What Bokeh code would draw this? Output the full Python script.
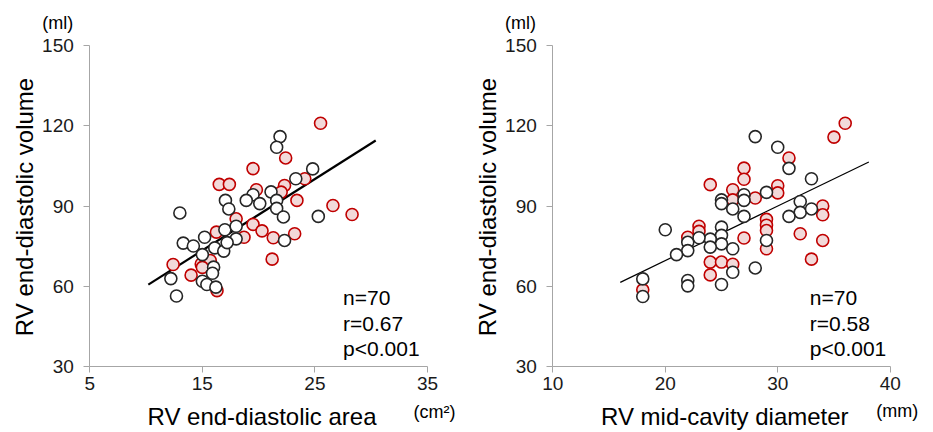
import numpy as np
from bokeh.plotting import figure
from bokeh.layouts import row
from bokeh.models import Label, FixedTicker, Range1d
from bokeh.embed import file_html
from bokeh.resources import INLINE

# ---------------- data: left panel (RV end-diastolic area, cm2) ----------------
area_red_x = [25.5, 22.4, 19.5, 16.5, 17.4, 19.8, 22.3, 22.0, 24.1, 23.4, 26.6, 28.3, 18.0,
              16.25, 19.5, 20.3, 18.7, 21.3, 23.2, 21.2, 12.4, 14.9, 15.7, 14.0, 16.3, 15.0]
area_red_y = [121.0, 108.0, 104.0, 98.1, 98.1, 96.1, 97.7, 95.2, 100.2, 92.1, 90.2, 86.8, 85.2,
              80.2, 83.1, 80.7, 78.3, 78.1, 79.6, 70.1, 68.1, 68.3, 69.6, 64.1, 58.3, 67.0]
area_blk_x = [21.9, 21.6, 24.8, 23.3, 21.1, 19.5, 18.9, 20.1, 21.6, 21.6, 22.2, 25.3, 13.0,
              17.05, 17.35, 17.0, 18.0, 18.0, 22.3, 15.2, 13.3, 14.2, 16.1, 16.9, 17.2, 15.0,
              16.0, 15.9, 15.0, 15.4, 16.2, 12.2, 12.7]
area_blk_y = [116.0, 112.0, 103.9, 100.2, 95.3, 94.2, 92.1, 90.9, 92.1, 89.1, 85.9, 86.1, 87.4,
              92.1, 88.9, 81.1, 82.4, 77.7, 77.1, 78.3, 76.1, 75.0, 74.3, 73.1, 76.3, 71.8,
              67.1, 64.8, 61.8, 60.6, 59.6, 62.8, 56.3]
area_fit = {"slope": 2.673, "intercept": 33.28, "x0": 10.2, "x1": 30.4}
area_stats = ["n=70", "r=0.67", "p<0.001"]

# ---------------- data: right panel (RV mid-cavity diameter, mm) ----------------
diam_red_x = [36, 35, 31, 27, 27, 24, 26, 26, 30, 30, 28, 34, 34, 29, 29, 29, 29, 32, 34, 33,
              27, 23, 23, 22, 24, 25, 26, 24, 18]
diam_red_y = [121.0, 115.8, 108.0, 104.2, 100.0, 98.0, 96.1, 92.3, 97.6, 94.9, 93.0, 90.0, 86.7,
              85.0, 82.8, 80.8, 74.0, 79.6, 77.1, 70.1, 78.0, 82.4, 80.5, 78.3, 69.0, 69.0,
              68.2, 64.2, 58.6]
diam_blk_x = [28, 30, 31, 33, 29, 27, 27, 25, 25, 26, 27, 32, 32, 33, 31, 29, 28, 26, 26, 25,
              25, 25, 25, 24, 24, 23, 22, 22, 21, 20, 22, 22, 18, 18]
diam_blk_y = [116.0, 112.0, 104.1, 100.2, 95.1, 94.2, 92.1, 92.3, 90.9, 88.9, 86.1, 91.7, 87.6,
              88.9, 86.1, 77.1, 66.8, 74.0, 65.2, 82.1, 79.0, 75.8, 60.6, 77.6, 74.6, 78.1,
              76.4, 73.3, 71.8, 81.1, 62.1, 60.1, 62.7, 56.1]
diam_fit = {"slope": 2.041, "intercept": 28.74, "x0": 16.0, "x1": 38.1}
diam_stats = ["n=70", "r=0.58", "p<0.001"]

y_ticks = [30, 60, 90, 120, 150]
area_ticks = [5, 15, 25, 35]
diam_ticks = [10, 20, 30, 40]
stat_y = [55.8, 46.1, 36.6]

FONT = "Liberation Sans"
AXIS_GRAY = "#a6a6a6"
RED_EDGE = "#c00000"
RED_FILL = "#f2d9d9"
BLK_EDGE = "#262626"

H = 432
AX_TOP_PX, AX_BOT_PX = 45.3, 365.7      # pixel rows of y=150 and y=30


def make_panel(width, xmin, xmax, ax_left_px, ax_right_px, xticks, rx, ry, bx, by, fit, fit_w,
               stats, stat_x, xtitle, xtitle_cx, unit, unit_cx, unit_cy, ml_cx, ytitle_cx):
    sx = (ax_right_px - ax_left_px) / (xmax - xmin)
    x0 = xmin - ax_left_px / sx
    x1 = x0 + width / sx
    sy = (AX_BOT_PX - AX_TOP_PX) / (150 - 30)
    y1 = 150 + AX_TOP_PX / sy
    y0 = 30 - (H - AX_BOT_PX) / sy

    p = figure(width=width, height=H, x_range=Range1d(x0, x1), y_range=Range1d(y0, y1),
               output_backend="svg", toolbar_location=None, min_border=0,
               min_border_left=0, min_border_right=0, min_border_top=0, min_border_bottom=0)
    p.outline_line_color = None
    p.xgrid.visible = False
    p.ygrid.visible = False
    p.background_fill_color = "white"
    p.border_fill_color = "white"

    xa, ya = p.xaxis[0], p.yaxis[0]
    xa.fixed_location = 30
    ya.fixed_location = xmin
    xa.bounds = (xmin, xmax)
    ya.bounds = (30, 150)
    for ax in (xa, ya):
        ax.axis_line_color = AXIS_GRAY
        ax.major_tick_line_color = AXIS_GRAY
        ax.minor_tick_line_color = None
        ax.major_tick_out = 6
        ax.major_tick_in = 0
        ax.major_label_text_font = FONT
        ax.major_label_text_font_size = "19px"
        ax.major_label_text_color = "#1a1a1a"
    xa.ticker = FixedTicker(ticks=xticks)
    ya.ticker = FixedTicker(ticks=y_ticks)
    xa.major_label_standoff = 5
    ya.major_label_standoff = 10

    # regression line from fitted parameters
    fx = np.array([fit["x0"], fit["x1"]])
    fy = fit["slope"] * fx + fit["intercept"]
    p.line(fx, fy, line_color="black", line_width=fit_w)

    p.scatter(rx, ry, size=12, fill_color=RED_FILL, line_color=RED_EDGE, line_width=1.6)
    p.scatter(bx, by, size=12, fill_color="white", line_color=BLK_EDGE, line_width=1.6)

    for s, yv in zip(stats, stat_y):
        p.add_layout(Label(x=stat_x, y=yv, text=s, text_font=FONT, text_font_size="21px",
                           text_baseline="middle", text_align="left", text_color="#000000"))

    def scr(text, cx, cy_page, size, angle=0.0):
        p.add_layout(Label(x=cx, y=H - cy_page, x_units="screen", y_units="screen", text=text,
                           text_font=FONT, text_font_size=size, text_align="center",
                           text_baseline="middle", text_color="#000000", angle=angle))

    scr("(ml)", ml_cx, 22, "18px")
    scr("RV end-diastolic volume", ytitle_cx, 206.5, "24px", angle=np.pi / 2)
    scr(xtitle, xtitle_cx, 416, "24px")
    scr(unit, unit_cx, unit_cy, "18px")
    return p


p1 = make_panel(466, 5, 35, 89.3, 427.0, area_ticks, area_red_x, area_red_y,
                area_blk_x, area_blk_y, area_fit, 2.2, area_stats, 27.5,
                "RV end-diastolic area", 261.5, "(cm²)", 434, 411, 57.2, 23.5)
p2 = make_panel(467, 10, 40, 86.3, 423.7, diam_ticks, diam_red_x, diam_red_y,
                diam_blk_x, diam_blk_y, diam_fit, 1.2, diam_stats, 32.85,
                "RV mid-cavity diameter", 258.3, "(mm)", 430.8, 410.5, 54.0, 21.2)

layout = row(p1, p2)
open("out.html", "w").write(file_html(layout, INLINE))
